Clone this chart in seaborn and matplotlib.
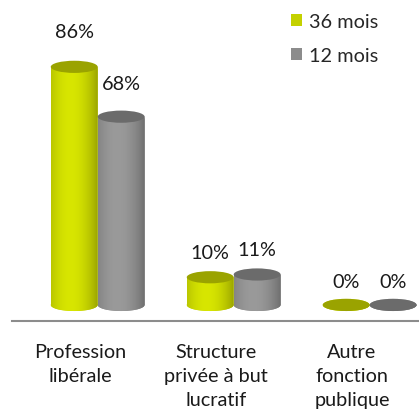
import numpy as np
import pandas as pd
import seaborn as sns
import matplotlib.pyplot as plt
from matplotlib.patches import Ellipse, Patch
from matplotlib.path import Path
from matplotlib.colors import to_rgb

# Data ########################################################################
categories = ['Profession\nlibérale', 'Structure\nprivée à but\nlucratif', 'Autre\nfonction\npublique']
series = ['36 mois', '12 mois']
vals_36 = [86, 10, 0]
vals_12 = [68, 11, 0]

body_colors = ['#c4d100', '#8c8c8c']
top_colors = ['#9aa300', '#6b6b6b']

df = pd.DataFrame({
    'categorie': categories * 2,
    'periode': [series[0]] * 3 + [series[1]] * 3,
    'pct': vals_36 + vals_12,
})

# Plot ########################################################################
sns.set_style('white')
plt.rcParams['font.family'] = ['Lato', 'DejaVu Sans']
fs = 14.3

fig = plt.figure(figsize=(4.19, 4.10), dpi=100)
ax = fig.add_axes([12 / 419, 88 / 410, 408 / 419, 322 / 410])

sns.barplot(data=df, x='categorie', y='pct', hue='periode', hue_order=series,
            palette=body_colors, width=0.69, saturation=1, legend=False,
            ax=ax, zorder=2)

eh = 4.4          # ellipse height in data units (cylinder look)
shift = 0.13      # 3D depth offset to the right
t = np.linspace(0, 1, 64)
shade = 0.78 + 0.32 * np.sin(np.pi * (0.15 + 0.85 * t)) ** 0.8

for cont, body, top, vals in zip(ax.containers, body_colors, top_colors, [vals_36, vals_12]):
    rgb = np.array(to_rgb(body))
    grad = np.clip(shade[:, None] * rgb[None, :], 0, 1)[None, :, :]
    for bar, v in zip(cont, vals):
        bar.set_x(bar.get_x() + shift)
        x0, w, h = bar.get_x(), bar.get_width(), bar.get_height()
        cx = x0 + w / 2
        ax.add_patch(Ellipse((cx, 0), w, eh, color=body, zorder=2, lw=0))
        a = np.linspace(np.pi, 2 * np.pi, 40)
        verts = [(x0, h)] + list(zip(cx + w / 2 * np.cos(a), eh / 2 * np.sin(a))) + [(x0 + w, h), (x0, h)]
        im = ax.imshow(grad, extent=(x0, x0 + w, -eh / 2, max(h, 0.01)), aspect='auto',
                       interpolation='bicubic', zorder=3)
        im.set_clip_path(Path(verts, closed=True), ax.transData)
        ax.add_patch(Ellipse((cx, h), w, eh, color=top, zorder=4, lw=0))
        ax.annotate(f'{v}%', xy=(cx, v * 1.05), xytext=(0, 17), textcoords='offset points',
                    ha='center', va='center', fontsize=fs, color='#1a1a1a')

ax.set_xlim(-0.5, 2.5)
ax.set_ylim(-5.8, 110.5)
ax.set_xlabel('')
ax.set_ylabel('')
ax.set_yticks([])
ax.set_xticks(range(3))
ax.set_xticklabels(categories, fontsize=fs, color='#1a1a1a', linespacing=1.5)
ax.set_xticks([-0.5, 0.5, 1.5, 2.5], minor=True)
ax.tick_params(axis='x', which='major', length=0, pad=16)
ax.tick_params(axis='x', which='minor', length=5, width=1.2, color='#8c8c8c', direction='out')
for side in ['left', 'right', 'top']:
    ax.spines[side].set_visible(False)
ax.spines['bottom'].set_color('#8c8c8c')
ax.spines['bottom'].set_linewidth(1.5)

handles = [Patch(color=c, lw=0) for c in body_colors]
fig.legend(handles, series, loc='upper left', bbox_to_anchor=(291 / 419, 1 - 14 / 410),
           frameon=False, fontsize=fs, handlelength=0.55, handleheight=0.55,
           handletextpad=0.35, labelspacing=0.85, borderpad=0, borderaxespad=0)

fig.savefig('out.png', dpi=100)
